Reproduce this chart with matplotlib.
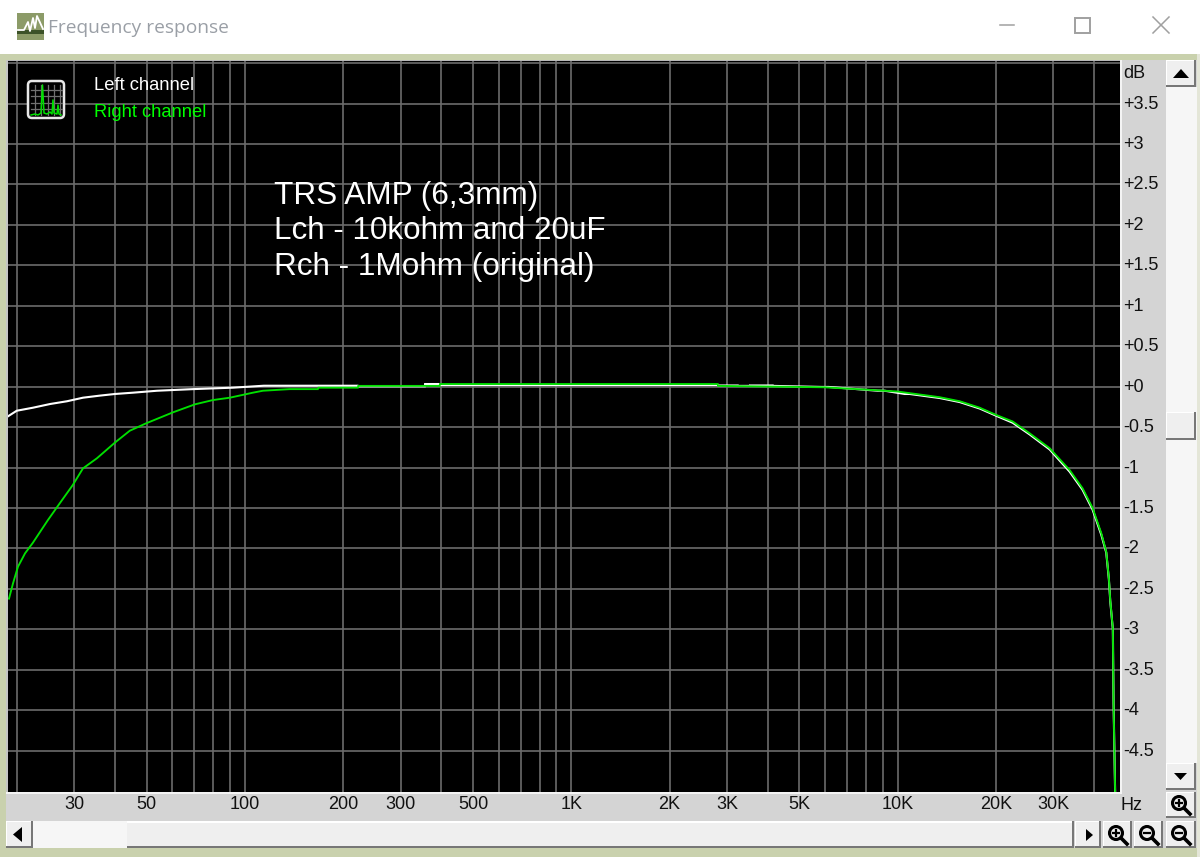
import matplotlib
matplotlib.use("Agg")
import matplotlib.pyplot as plt
from matplotlib.patches import Rectangle, Circle, FancyBboxPatch
from matplotlib.ticker import NullLocator, NullFormatter
from matplotlib.transforms import ScaledTranslation

# ---------- data ----------
title = "Frequency response"
annotation = ["TRS AMP (6,3mm)", "Lch - 10kohm and 20uF", "Rch - 1Mohm (original)"]
legend_names = ["Left channel", "Right channel"]

grid_freqs = [20, 30, 40, 50, 60, 70, 80, 90, 100, 200, 300, 400, 500, 600, 700, 800, 900,
              1000, 2000, 3000, 4000, 5000, 6000, 7000, 8000, 9000, 10000, 20000, 30000, 40000]
freq_labels = {30: "30", 50: "50", 100: "100", 200: "200", 300: "300", 500: "500", 1000: "1K",
               2000: "2K", 3000: "3K", 5000: "5K", 10000: "10K", 20000: "20K", 30000: "30K"}
db_ticks = [4, 3.5, 3, 2.5, 2, 1.5, 1, 0.5, 0, -0.5, -1, -1.5, -2, -2.5, -3, -3.5, -4, -4.5]
db_labels = ["", "+3.5", "+3", "+2.5", "+2", "+1.5", "+1", "+0.5", "+0", "-0.5", "-1", "-1.5",
             "-2", "-2.5", "-3", "-3.5", "-4", "-4.5"]

right_f = [18.93, 19.48, 20.17, 21.2, 22.4, 24.9, 27.1, 29.7, 31.9, 35.2, 40.0, 44.4, 49.8, 60.2,
           70.3, 79.8, 89.9, 105.8, 113.5, 137.3, 167.3, 168, 221.8, 222.5, 395, 396, 2810, 2815,
           5975, 7490, 9125, 10000, 13450, 15490, 17840, 20060, 22500, 25370, 29210, 33640, 36860,
           39560, 42060, 43560, 44380, 44810, 45640, 45870, 46420]
right_db = [-2.62, -2.43, -2.225, -2.06, -1.93, -1.65, -1.44, -1.215, -1.01, -0.885, -0.69, -0.544,
            -0.453, -0.317, -0.218, -0.165, -0.136, -0.074, -0.05, -0.03, -0.03, -0.012, -0.012,
            0.01, 0.01, 0.033, 0.033, 0.01, -0.007, -0.03, -0.05, -0.06, -0.13, -0.18, -0.26, -0.35,
            -0.43, -0.576, -0.76, -1.03, -1.256, -1.50, -1.81, -2.04, -2.37, -2.64, -2.99, -3.91,
            -5.1]

left_f = [18.8, 20.0, 22.4, 25.3, 28.5, 31.9, 36.0, 40.0, 45.4, 53.8, 69.3, 91.9, 114.3, 221.8, 222.5,
          355.9, 356.5, 392.8, 393.5, 2810, 2815, 3236, 3240, 3522, 3526, 4141, 4145, 5851,
          6148, 8686, 9125, 10506, 10885, 13450, 15490, 17840, 20060, 22500, 25370, 29210, 33640,
          36860, 39560, 42060, 43560, 44380, 44810, 45640, 45870, 46420]
left_db = [-0.366, -0.297, -0.26, -0.214, -0.18, -0.136, -0.11, -0.09, -0.074, -0.05, -0.03, -0.012,
           0.012, 0.012, 0.005, 0.005, 0.033, 0.033, 0.02, 0.02, 0.015, 0.015, 0.01, 0.01, 0.015,
           0.015, 0.01, -0.003, -0.003, -0.05, -0.05, -0.09, -0.09, -0.14, -0.19, -0.27, -0.36,
           -0.445, -0.59, -0.775, -1.05, -1.275, -1.52, -1.83, -2.05, -2.38, -2.65, -3.0, -3.92, -5.1]

# ---------- layout ----------
W, H = 1200, 857
fig = plt.figure(figsize=(W / 100, H / 100), dpi=100, facecolor="#D4D4D4")
plt.rcParams["font.family"] = ["Liberation Sans", "DejaVu Sans"]


def px_rect(x0, y0, x1, y1):
    return [x0 / W, 1 - y1 / H, (x1 - x0) / W, (y1 - y0) / H]


# chrome layer in pixel coordinates
ui = fig.add_axes([0, 0, 1, 1], zorder=0)
ui.set_xlim(0, W)
ui.set_ylim(H, 0)
ui.axis("off")


def rect(x0, y0, x1, y1, color, **kw):
    ui.add_patch(Rectangle((x0, y0), x1 - x0, y1 - y0, facecolor=color, edgecolor="none", **kw))


SAGE = "#C9D1AD"
rect(0, 0, W, 54, "white")
rect(0, 54, W, 60, SAGE)
rect(0, 54, 6, H, SAGE)
rect(0, 848, W, H, SAGE)
rect(1197, 54, W, H, "#E4E6D8")
rect(6, 60, 1197, 848, "#D4D4D4")

# title bar icon and text
rect(17, 13, 44, 40, "#8C9B68")
rect(17, 30, 44, 34, "#3C5228")
ui.plot([18, 24, 28, 30, 33, 35, 37, 43], [30, 30, 22, 31, 18, 28, 16, 29], color="white", lw=1.3)
ui.text(48, 28, title, fontsize=13.8, color="#9A9FA6", va="center", ha="left", family="Open Sans")
ui.plot([1000, 1014], [25, 25], color="#A0A0A0", lw=1.1)
ui.add_patch(Rectangle((1075, 18), 15, 15, fill=False, edgecolor="#A0A0A0", lw=1.4))
ui.plot([1153, 1169], [17, 33], color="#A0A0A0", lw=1.1)
ui.plot([1153, 1169], [33, 17], color="#A0A0A0", lw=1.1)


def button(x0, y0, x1, y1):
    rect(x0, y0, x1, y1, "#777777")
    rect(x0, y0, x1 - 2, y1 - 2, "white")
    rect(x0 + 1, y0 + 1, x1 - 2, y1 - 2, "#EFEFEF")


def magnifier(cx, cy, sign):
    ui.add_patch(Circle((cx - 1, cy - 1), 6.5, fill=False, edgecolor="black", lw=2.2))
    ui.plot([cx + 4, cx + 10], [cy + 4, cy + 10], color="black", lw=2.6)
    ui.plot([cx - 4, cx + 2], [cy - 1, cy - 1], color="black", lw=1.6)
    if sign == "+":
        ui.plot([cx - 1, cx - 1], [cy - 4, cy + 2], color="black", lw=1.6)


# vertical scrollbar
rect(1166, 87, 1197, 763, "#F6F6F6")
button(1166, 60, 1196, 87)
ui.fill([1173, 1189, 1181], [78, 78, 69], color="black", lw=0)
button(1166, 412, 1196, 440)
button(1166, 763, 1196, 790)
ui.fill([1174, 1187, 1180.5], [773, 773, 780], color="black", lw=0)
button(1166, 792, 1196, 818)
magnifier(1180, 804, "+")

# horizontal scrollbar
rect(32, 821, 127, 848, "#F6F6F6")
rect(127, 821, 1074, 848, "#777777")
rect(127, 821, 1072, 823, "white")
rect(127, 823, 1072, 846, "#EFEFEF")
button(6, 821, 33, 848)
ui.fill([22, 22, 13], [827, 842, 834.5], color="black", lw=0)
button(1075, 821, 1101, 848)
ui.fill([1086, 1086, 1093], [829, 841, 835], color="black", lw=0)
button(1103, 821, 1132, 848)
magnifier(1117, 834, "+")
button(1134, 821, 1163, 848)
magnifier(1148, 834, "-")
button(1166, 821, 1196, 848)
magnifier(1180, 834, "-")

# plot frame edges
rect(6, 60, 1122, 794, "#F4F4F4")
rect(6, 60, 1120, 61.5, "#B8B8B8")
rect(6, 60, 8, 792, "#C4C4C4")

# ---------- plot ----------
ax = fig.add_axes(px_rect(8, 61, 1120, 792), zorder=1, facecolor="black")
ax.patch.set_alpha(1)
ax.set_xscale("log")
ax.set_xlim(18.8, 48000)
ax.set_ylim(-5.01, 4.026)
ax.set_xticks(grid_freqs)
ax.set_xticklabels([freq_labels.get(f, "") for f in grid_freqs])
ax.xaxis.set_minor_locator(NullLocator())
ax.xaxis.set_minor_formatter(NullFormatter())
ax.set_yticks(db_ticks)
ax.set_yticklabels(db_labels)
ax.yaxis.tick_right()
ax.tick_params(axis="both", length=0, labelsize=13, labelcolor="#111111")
ax.tick_params(axis="x", pad=3.2)
ax.tick_params(axis="y", pad=2)
up = ScaledTranslation(0, 1.5 / 100, fig.dpi_scale_trans)
for lab in ax.get_yticklabels():
    lab.set_transform(lab.get_transform() + up)
ax.grid(True, color="#6C6C6C", lw=1.2, zorder=1)
ax.set_axisbelow(True)
for s in ax.spines.values():
    s.set_visible(False)

ax.plot(left_f, left_db, color="white", lw=1.5, zorder=3, solid_joinstyle="miter", clip_on=True)
ax.plot(right_f, right_db, color="#00E000", lw=1.35, zorder=4, solid_joinstyle="miter", clip_on=True)

# ---------- overlay text ----------
top = fig.add_axes([0, 0, 1, 1], zorder=2)
top.set_xlim(0, W)
top.set_ylim(H, 0)
top.axis("off")
top.patch.set_alpha(0)

for line, y, fs in zip(annotation, [204, 239, 275], [22.7, 22.6, 22.7]):
    top.text(274.5, y, line, color="white", fontsize=fs, va="baseline", ha="left")

top.text(93.5, 85, legend_names[0], color="white", fontsize=13.2, va="center", ha="left")
top.text(93.5, 112, legend_names[1], color="#00FF00", fontsize=13.2, va="center", ha="left")
top.text(1123, 73, "dB", color="#111111", fontsize=13, va="center", ha="left")
top.text(1131, 805, "Hz", color="#111111", fontsize=13, va="center", ha="center")

# legend glyph
top.add_patch(FancyBboxPatch((28, 81), 36, 37, boxstyle="round,pad=0,rounding_size=4",
                             facecolor="black", edgecolor="#E8E8E8", lw=1.8))
for v in [35, 41, 48, 54, 60]:
    top.plot([v, v], [85, 115], color="#707070", lw=0.9)
for v in [90, 96, 103, 109]:
    top.plot([31, 62], [v, v], color="#707070", lw=0.9)
top.plot([31, 35, 38, 41, 42.5, 44, 47, 50, 52, 53, 54, 57, 58, 59, 61],
         [115, 114, 115, 113, 85, 113, 114, 112, 114, 100, 113, 114, 105, 114, 115],
         color="#00E000", lw=1.1)

fig.savefig("out.png", dpi=100, facecolor=fig.get_facecolor())
